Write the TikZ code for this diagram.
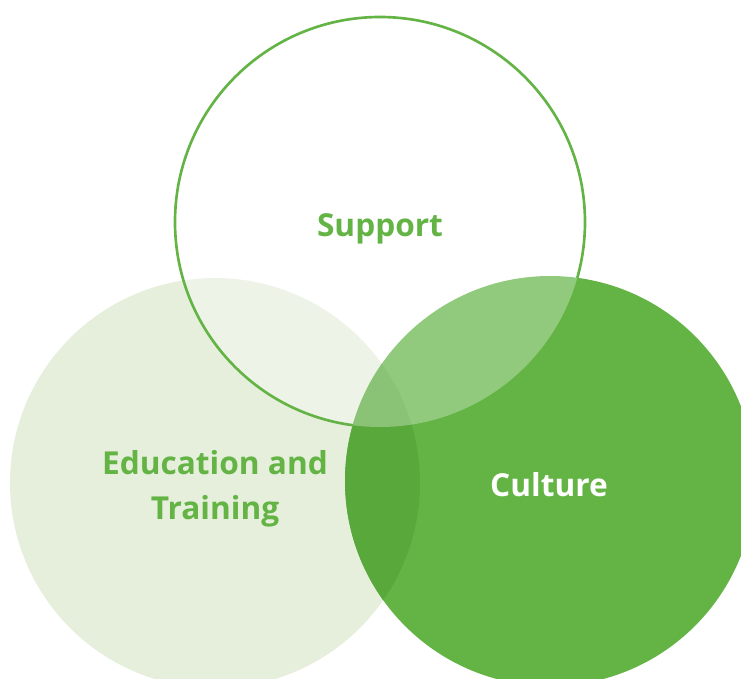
\documentclass[tikz,border=0pt]{standalone}
\usepackage{fontspec}
\setmainfont{Open Sans}
\usepackage{xcolor}
\usetikzlibrary{positioning}

\definecolor{vgreen}{HTML}{64B445}
\definecolor{vdark}{HTML}{58A83C}
\definecolor{vpale}{HTML}{E6EFDC}

\begin{document}
\begin{tikzpicture} [
       x=0.02cm, y=-0.02cm,
       set/.style={font=\bfseries\fontsize{18}{25.5}\selectfont, align=center, text=vgreen},
       setw/.style={set, text=white},
       rim/.style={draw=vgreen, line width=1.5pt},
       ]
       \useasboundingbox (0,0) rectangle (741,679);
       \coordinate (sup) at (380,222);
       \coordinate (edu) at (215,483);
       \coordinate (cul) at (550,481);
       \fill[vpale] (edu) circle[radius=205];
       \fill[vgreen] (cul) circle[radius=205];
       \begin{scope}
        \clip (edu) circle[radius=205];
        \fill[vdark] (cul) circle[radius=205];
       \end{scope}
       \fill[white, opacity=0.3] (sup) circle[radius=205];
       \begin{scope}[even odd rule]
        \clip (0,0) rectangle (741,679) (cul) circle[radius=205];
        \path[rim] (sup) circle[radius=205];
       \end{scope}
       \node (support) [set] at (380,229) {Support};
       \node (education) [set] at (215,489) {Education and\\Training};
       \node (culture) [setw] at (549,485) {Culture};
\end{tikzpicture}
\end{document}
